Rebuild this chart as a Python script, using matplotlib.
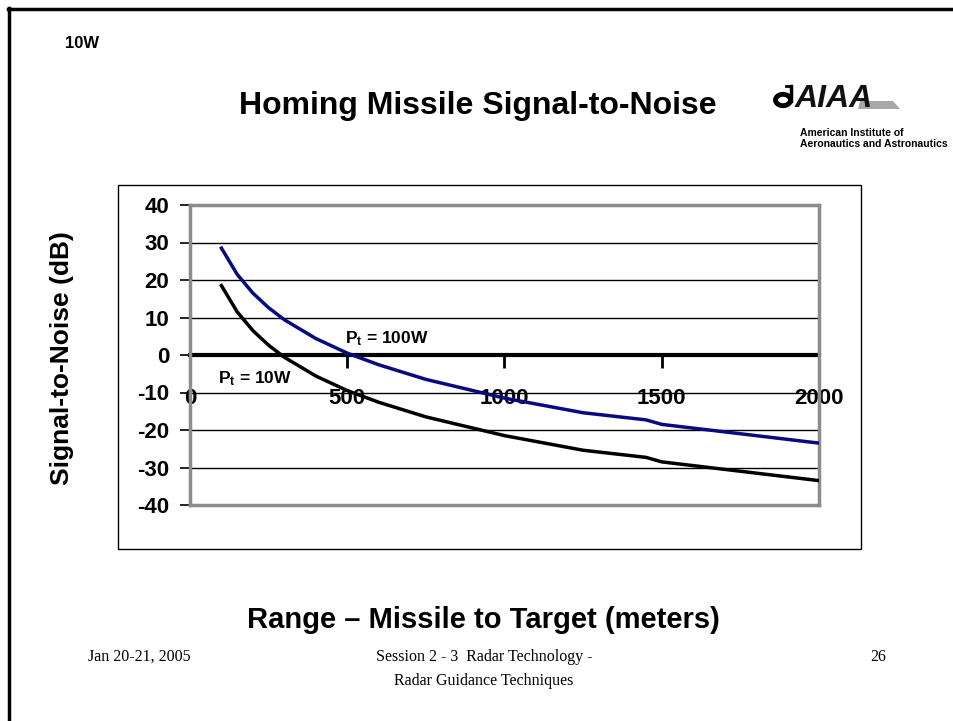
import matplotlib
matplotlib.use("Agg")
import matplotlib.pyplot as plt
from matplotlib.patches import Rectangle, Circle, Polygon
from matplotlib.lines import Line2D

# ---- data ----
range_m = [100, 150, 200, 250, 300, 400, 500, 600, 750, 1000, 1250, 1450, 1500, 1750, 2000]
snr_100w = [28.5, 21.5, 16.5, 12.6, 9.4, 4.4, 0.5, -2.6, -6.5, -11.5, -15.4, -17.3, -18.5, -21.0, -23.5]
snr_10w = [18.5, 11.5, 6.5, 2.6, -0.6, -5.6, -9.5, -12.6, -16.5, -21.5, -25.4, -27.3, -28.5, -31.0, -33.5]
x_ticks = [0, 500, 1000, 1500, 2000]
y_ticks = [-40, -30, -20, -10, 0, 10, 20, 30, 40]

W, H = 954, 721
fig = plt.figure(figsize=(W / 100, H / 100), dpi=100)
fig.patch.set_facecolor("white")
plt.rcParams["mathtext.default"] = "bf"
plt.rcParams["mathtext.fontset"] = "custom"
plt.rcParams["mathtext.bf"] = "Liberation Sans:bold"
plt.rcParams["mathtext.rm"] = "Liberation Sans:bold"


def fx(px):
    return px / W


def fy(py):
    return 1 - py / H


SANS = ["Liberation Sans", "DejaVu Sans"]
SERIF = ["Liberation Serif", "DejaVu Serif"]

# slide frame (top and left)
fig.add_artist(Line2D([fx(8), 1], [fy(9), fy(9)], color="black", lw=2.5, transform=fig.transFigure))
fig.add_artist(Line2D([fx(9), fx(9)], [fy(8), 0], color="black", lw=2.5, transform=fig.transFigure))

# chart box
fig.add_artist(Rectangle((fx(118), fy(549)), fx(861) - fx(118), fy(185) - fy(549),
                         transform=fig.transFigure, fill=False, edgecolor="black", lw=1.0))

# axes
L, R, T, B = 190, 819, 205, 505
ax = fig.add_axes([fx(L), fy(B), fx(R) - fx(L), fy(T) - fy(B)])
ax.set_xlim(0, 2000)
ax.set_ylim(-40, 40)

for y in y_ticks:
    if y in (-40, 40, 0):
        continue
    ax.axhline(y, color="black", lw=1.0, zorder=1)

ax.plot(range_m, snr_100w, color="#0a0a80", lw=2.5, zorder=3, solid_joinstyle="round")
ax.plot(range_m, snr_10w, color="black", lw=2.5, zorder=3, solid_joinstyle="round")

for s in ("top", "left", "right"):
    ax.spines[s].set_color("#8c8c8c")
    ax.spines[s].set_linewidth(2.5)
ax.spines["bottom"].set_position(("data", 0))
ax.spines["bottom"].set_color("black")
ax.spines["bottom"].set_linewidth(3)
ax.spines["bottom"].set_zorder(2)
# bottom border of the plot area (at -40)
ax.axhline(-40, color="#8c8c8c", lw=2.5, clip_on=False, zorder=2)

ax.set_yticks(y_ticks)
ax.set_yticklabels([str(v) for v in y_ticks])
ax.set_xticks(x_ticks)
ax.set_xticklabels([str(v) for v in x_ticks])
ax.tick_params(axis="y", direction="out", length=7, width=1.2, color="black", pad=8,
               labelsize=16)
ax.tick_params(axis="x", direction="out", length=9, width=2, color="black", pad=15,
               labelsize=16)
for lab in ax.get_yticklabels() + ax.get_xticklabels():
    lab.set_fontweight("bold")
    lab.set_family(SANS)

ax.text(492, 3.2, r"P$_\mathregular{t}$ = 100W", fontsize=12.5, fontweight="bold", family=SANS,
        ha="left", va="baseline")
ax.text(88, -7.6, r"P$_\mathregular{t}$ = 10W", fontsize=12.5, fontweight="bold", family=SANS,
        ha="left", va="baseline")

# labels and titles
fig.text(fx(62), fy(358), "Signal-to-Noise (dB)", rotation=90, ha="center", va="center",
         fontsize=19, fontweight="bold", family=SANS)
fig.text(fx(483), fy(620), "Range \u2013 Missile to Target (meters)", ha="center", va="center",
         fontsize=21, fontweight="bold", family=SANS)
fig.text(fx(478), fy(106), "Homing Missile Signal-to-Noise", ha="center", va="center",
         fontsize=23, fontweight="bold", family=SANS)
fig.text(fx(65), fy(44), "10W", ha="left", va="center", fontsize=12, fontweight="bold", family=SANS)

# logo
fig.add_artist(Circle((fx(783), fy(100)), fx(7.5), transform=fig.transFigure, fill=False,
                      edgecolor="black", lw=3.5))
fig.add_artist(Line2D([fx(791), fx(791)], [fy(101), fy(86)], color="black", lw=2.5,
                      transform=fig.transFigure))
fig.add_artist(Line2D([fx(791), fx(786)], [fy(86), fy(86)], color="black", lw=2.0,
                      transform=fig.transFigure))
fig.add_artist(Polygon([[fx(860), fy(101)], [fx(893), fy(101)], [fx(900), fy(109)], [fx(858), fy(109)]],
                       closed=True, transform=fig.transFigure, facecolor="#a8a8a8", edgecolor="none"))
fig.text(fx(795), fy(99), "AIAA", ha="left", va="center", fontsize=23, fontweight="bold",
         style="italic", family=SANS, color="#111111")
fig.text(fx(800), fy(133), "American Institute of", ha="left", va="center", fontsize=7.5,
         fontweight="bold", family=SANS)
fig.text(fx(800), fy(144), "Aeronautics and Astronautics", ha="left", va="center", fontsize=7.5,
         fontweight="bold", family=SANS)

# footer
fig.text(fx(88), fy(657), "Jan 20-21, 2005", ha="left", va="center", fontsize=11.5, family=SERIF)
fig.text(fx(484), fy(657), "Session 2 - 3  Radar Technology -", ha="center", va="center",
         fontsize=11.5, family=SERIF)
fig.text(fx(484), fy(681), "Radar Guidance Techniques", ha="center", va="center",
         fontsize=11.5, family=SERIF)
fig.text(fx(878), fy(657), "26", ha="center", va="center", fontsize=11.5, family=SERIF)

fig.savefig("out.png", dpi=100)
